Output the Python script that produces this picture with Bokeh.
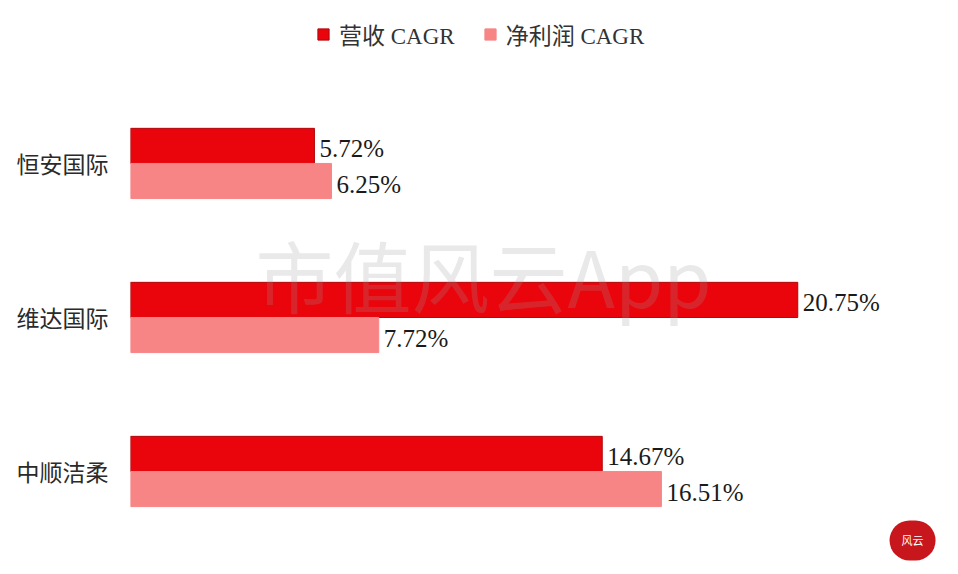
from bokeh.plotting import figure
from bokeh.models import ColumnDataSource, Range1d, FixedTicker, Legend, LegendItem, Label
from bokeh.transform import dodge
from bokeh.core.properties import value
from bokeh.embed import file_html
from bokeh.resources import INLINE

companies = ["中顺洁柔", "维达国际", "恒安国际"]
revenue_cagr = [14.67, 20.75, 5.72]
profit_cagr = [16.51, 7.72, 6.25]
series_names = ["营收 CAGR", "净利润 CAGR"]

idx = list(range(len(companies)))
src = ColumnDataSource(dict(
    idx=idx,
    rev=revenue_cagr,
    pro=profit_cagr,
    rev_lbl=[f"{v:.2f}%" for v in revenue_cagr],
    pro_lbl=[f"{v:.2f}%" for v in profit_cagr],
))

RED = "#EA050C"
PINK = "#F88586"
BAR_H = 0.228
OFF = BAR_H / 2

p = figure(width=950, height=566, output_backend="svg", toolbar_location=None,
           x_range=Range1d(0, 25.5), y_range=Range1d(-0.617, 3.058),
           min_border_left=130, min_border_right=0, min_border_top=0, min_border_bottom=0,
           outline_line_color=None, background_fill_color="white", border_fill_color="white")
p.xaxis.visible = False
p.grid.visible = False

ax = p.yaxis[0]
ax.ticker = FixedTicker(ticks=idx)
ax.major_label_overrides = {i: c for i, c in zip(idx, companies)}
ax.axis_line_color = None
ax.major_tick_line_color = None
ax.minor_tick_line_color = None
ax.major_tick_out = 0
ax.major_tick_in = 0
ax.major_label_text_font = "Noto Sans CJK SC"
ax.major_label_text_font_size = "23px"
ax.major_label_text_color = "#2a2a2a"
ax.major_label_standoff = 22

r1 = p.hbar(y=dodge("idx", OFF), left=0, right="rev", height=BAR_H, source=src,
            fill_color=RED, line_color="#B0060A", line_width=1)
r2 = p.hbar(y=dodge("idx", -OFF), left=0, right="pro", height=BAR_H, source=src,
            fill_color=PINK, line_color=PINK, line_width=1)

lbl_font = value("Liberation Serif")
p.text(x="rev", y=dodge("idx", OFF), text="rev_lbl", source=src, x_offset=5, y_offset=3,
       text_baseline="middle", text_font=lbl_font, text_font_size="25px", text_color="#1a1a1a")
p.text(x="pro", y=dodge("idx", -OFF), text="pro_lbl", source=src, x_offset=5, y_offset=3,
       text_baseline="middle", text_font=lbl_font, text_font_size="25px", text_color="#1a1a1a")

legend = Legend(items=[LegendItem(label=series_names[0], renderers=[r1]),
                       LegendItem(label=series_names[1], renderers=[r2])],
                location=(186, 515), orientation="horizontal",
                label_text_font="Liberation Serif, Noto Sans CJK SC", label_text_font_size="23px",
                label_text_color="#333333", glyph_width=14, glyph_height=14,
                label_standoff=9, spacing=28, padding=4, margin=0,
                border_line_color=None, background_fill_alpha=0)
p.add_layout(legend)

wm = Label(x=10.98, y=1.28, text="市值风云App", text_align="center", text_baseline="middle",
           text_font="Noto Sans CJK SC", text_font_size="78px",
           text_color="#9a9a9a", text_alpha=0.22)
p.add_layout(wm)

seal = Label(x=24.32, y=-0.448, text="风云", text_align="center", text_baseline="middle",
             text_font="Noto Sans CJK SC", text_font_size="11px", text_color="white",
             background_fill_color="#C8161D", padding=12, border_radius=22)
p.add_layout(seal)

open("out.html", "w").write(file_html(p, INLINE))
